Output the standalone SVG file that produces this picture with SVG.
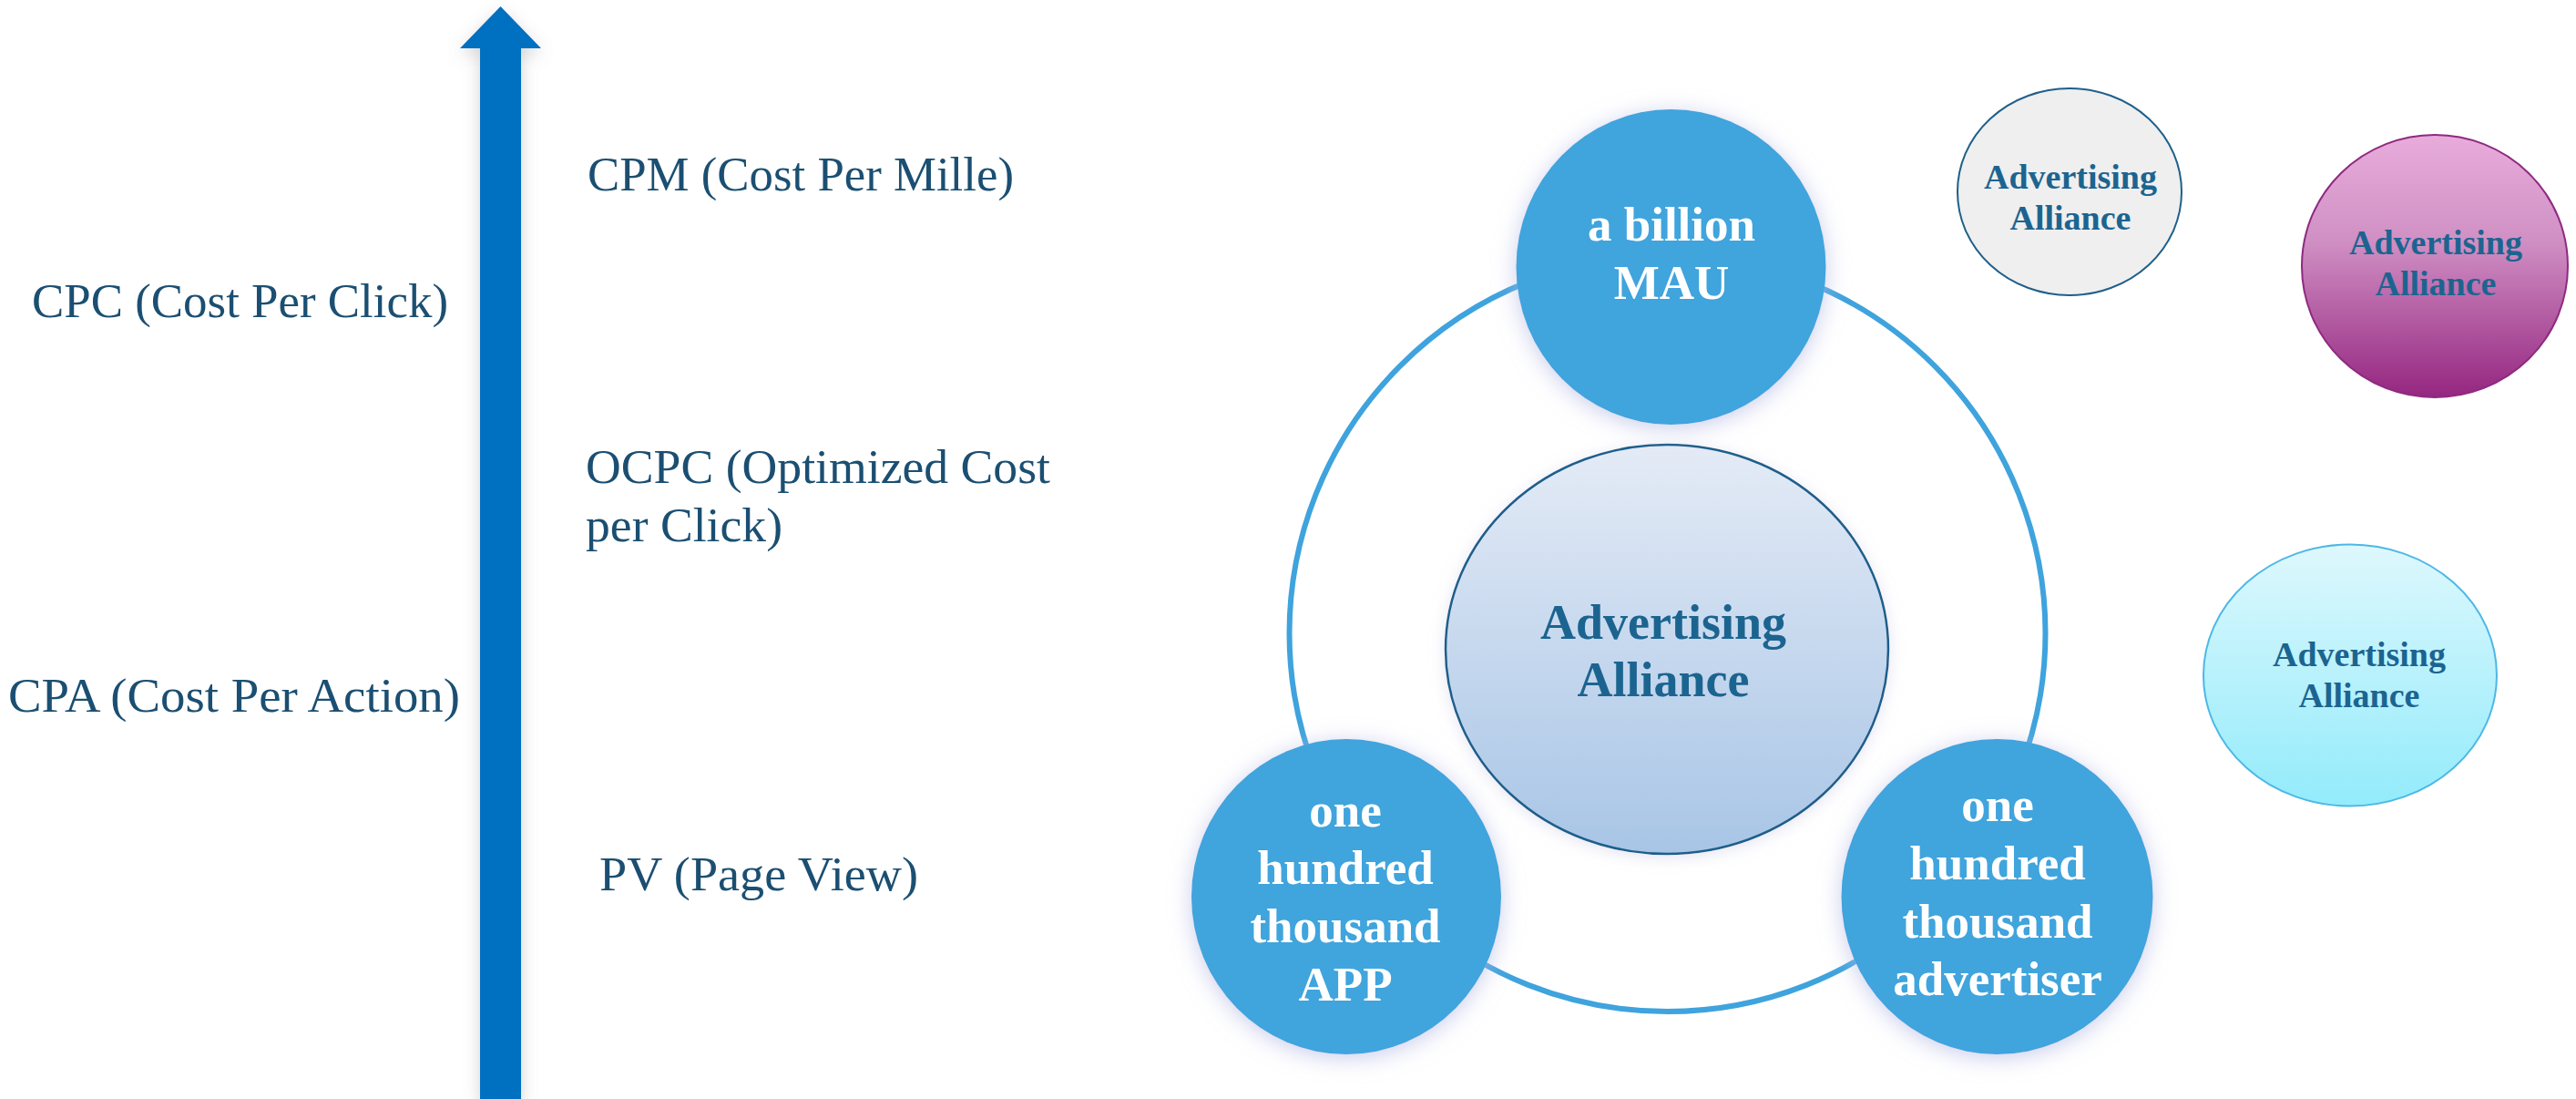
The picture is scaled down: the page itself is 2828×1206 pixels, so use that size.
<svg xmlns="http://www.w3.org/2000/svg" width="2828" height="1206" viewBox="0 0 2828 1206">
  <style>
    .lbl { font-family: "Liberation Serif", "Times New Roman", serif; font-size: 53px; fill: #1B4F72; }
    .wt { font-family: "Liberation Serif", "Times New Roman", serif; font-size: 53px; font-weight: bold; fill: #FFFFFF; text-anchor: middle; }
    .ct { font-family: "Liberation Serif", "Times New Roman", serif; font-size: 54px; font-weight: bold; fill: #1C6490; text-anchor: middle; }
    .st { font-family: "Liberation Serif", "Times New Roman", serif; font-size: 38px; font-weight: bold; fill: #1C6490; text-anchor: middle; }
    .blue { fill: #41A4DD; filter: url(#glow); }
  </style>
  <defs>
    <filter id="glow" x="-30%" y="-30%" width="160%" height="160%">
      <feDropShadow dx="0" dy="4" stdDeviation="12" flood-color="#B4B8E4" flood-opacity="0.7"/>
    </filter>
    <filter id="ashadow" x="-100%" y="-5%" width="300%" height="110%">
      <feDropShadow dx="0" dy="6" stdDeviation="9" flood-color="#808080" flood-opacity="0.35"/>
    </filter>
    <filter id="soft" x="-20%" y="-20%" width="140%" height="140%">
      <feDropShadow dx="0" dy="3" stdDeviation="8" flood-color="#C8CCE8" flood-opacity="0.5"/>
    </filter>
    <linearGradient id="gCenter" x1="0" y1="0" x2="0" y2="1">
      <stop offset="0" stop-color="#E4EBF6"/>
      <stop offset="1" stop-color="#A8C5E6"/>
    </linearGradient>
    <linearGradient id="gMagenta" x1="0" y1="0" x2="0" y2="1">
      <stop offset="0" stop-color="#E8ACDB"/>
      <stop offset="0.4" stop-color="#D090C4"/>
      <stop offset="1" stop-color="#952680"/>
    </linearGradient>
    <linearGradient id="gCyan" x1="0" y1="0" x2="0" y2="1">
      <stop offset="0" stop-color="#DEF8FD"/>
      <stop offset="1" stop-color="#93EBFB"/>
    </linearGradient>
  </defs>
  <rect x="0" y="0" width="2828" height="1206" fill="#FFFFFF"/>

  <g id="arrow">
    <polygon points="549.5,7 594,53 572,53 572,1206 527,1206 527,53 505,53" fill="#0070C0" filter="url(#ashadow)"/>
  </g>

  <g id="labels">
    <text class="lbl" x="645" y="209" textLength="468" lengthAdjust="spacingAndGlyphs">CPM (Cost Per Mille)</text>
    <text class="lbl" x="35" y="348" textLength="457" lengthAdjust="spacingAndGlyphs">CPC (Cost Per Click)</text>
    <text class="lbl" x="643" y="530" textLength="510" lengthAdjust="spacingAndGlyphs">OCPC (Optimized Cost</text>
    <text class="lbl" x="643" y="594" textLength="216" lengthAdjust="spacingAndGlyphs">per Click)</text>
    <text class="lbl" x="9" y="781" textLength="496" lengthAdjust="spacingAndGlyphs">CPA (Cost Per Action)</text>
    <text class="lbl" x="658" y="977" textLength="350" lengthAdjust="spacingAndGlyphs">PV (Page View)</text>
  </g>

  <g id="connectors">
    <circle cx="1830.5" cy="695" r="415" fill="none" stroke="#3FA3DD" stroke-width="6"/>
  </g>

  <g id="center">
    <ellipse cx="1830" cy="712.5" rx="243" ry="224.5" fill="url(#gCenter)" stroke="#1F5F8B" stroke-width="2.5" filter="url(#soft)"/>
    <text class="ct" x="1826" y="701">Advertising</text>
    <text class="ct" x="1826" y="764">Alliance</text>
  </g>

  <g id="mau">
    <ellipse class="blue" cx="1834.5" cy="293" rx="170" ry="173"/>
    <text class="wt" x="1835" y="264">a billion</text>
    <text class="wt" x="1835" y="328">MAU</text>
  </g>

  <g id="app">
    <ellipse class="blue" cx="1478" cy="984" rx="170" ry="173"/>
    <text class="wt" x="1477" y="907">one</text>
    <text class="wt" x="1477" y="970">hundred</text>
    <text class="wt" x="1477" y="1034">thousand</text>
    <text class="wt" x="1477" y="1098">APP</text>
  </g>

  <g id="advertiser">
    <ellipse class="blue" cx="2192.5" cy="984" rx="171" ry="173"/>
    <text class="wt" x="2193" y="901">one</text>
    <text class="wt" x="2193" y="965">hundred</text>
    <text class="wt" x="2193" y="1029">thousand</text>
    <text class="wt" x="2193" y="1092">advertiser</text>
  </g>

  <g id="alliance-gray">
    <ellipse cx="2272" cy="210.5" rx="123" ry="113.5" fill="#EFEFEF" stroke="#1F5F8B" stroke-width="2"/>
    <text class="st" x="2273" y="207">Advertising</text>
    <text class="st" x="2273" y="252">Alliance</text>
  </g>

  <g id="alliance-magenta">
    <ellipse cx="2673" cy="292" rx="146" ry="144" fill="url(#gMagenta)" stroke="#8E2A80" stroke-width="2"/>
    <text class="st" x="2674" y="279">Advertising</text>
    <text class="st" x="2674" y="324">Alliance</text>
  </g>

  <g id="alliance-cyan">
    <ellipse cx="2580" cy="741" rx="161" ry="143.5" fill="url(#gCyan)" stroke="#4DB8E6" stroke-width="2"/>
    <text class="st" x="2590" y="731">Advertising</text>
    <text class="st" x="2590" y="776">Alliance</text>
  </g>
</svg>
